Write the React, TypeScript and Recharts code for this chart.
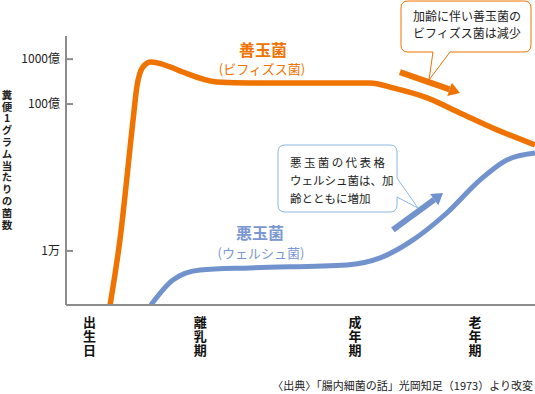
import React from 'react';
import { LineChart, Line, XAxis, YAxis, ReferenceLine } from 'recharts';

// stages along the life span (x ticks)
const stageNames = ['出生日', '離乳期', '成年期', '老年期'];
const stageAt = [5.0, 28.6, 61.6, 87.2];

// y ticks (schematic scale, 0-100)
const levelTicks = [20.1, 74.7, 91.4];
const levelNames = ['1万', '100億', '1000億'];

// 善玉菌 (ビフィズス菌)
const bifidoAge = [9.4, 11.5, 14.3, 15.1, 16.4, 18.1, 22.2, 24.9, 32.2, 39.2, 49.9, 64.8, 69.7, 77.0, 84.0, 91.0, 100];
const bifidoLevel = [0, 24.2, 68.8, 81.0, 88.5, 90.3, 88.5, 86.6, 82.9, 82.5, 82.5, 82.5, 80.7, 77.0, 71.4, 65.8, 59.5];

// 悪玉菌 (ウェルシュ菌)
const welchiiAge = [18.1, 22.8, 28.6, 39.2, 59.9, 67.0, 74.0, 81.2, 88.3, 94.0, 100];
const welchiiLevel = [0, 9.3, 13.0, 13.8, 14.9, 17.5, 24.2, 34.2, 46.5, 53.9, 56.5];

const bifidoData = bifidoAge.map((x, i) => ({ x, v: bifidoLevel[i] }));
const welchiiData = welchiiAge.map((x, i) => ({ x, v: welchiiLevel[i] }));

const ORANGE = '#ef7300';
const BLUE = '#7292cd';
const BLUE_TEXT = '#7b97d0';
const AXIS = '#8c8c8c';
const FONT = '"Noto Sans CJK JP", "Noto Sans", sans-serif';

const vertical: React.CSSProperties = { writingMode: 'vertical-rl', textOrientation: 'upright' } as any;

const StageTick = (props: any) => {
  const { x, y, payload } = props;
  const idx = stageAt.indexOf(payload.value);
  const name = idx >= 0 ? stageNames[idx] : '';
  return (
    <text x={x} y={y + 11} style={vertical} letterSpacing={1} fontSize={13} fontWeight="bold" fill="#111" fontFamily={FONT}>
      {name}
    </text>
  );
};

const LevelTick = (props: any) => {
  const { x, y, payload } = props;
  const idx = levelTicks.indexOf(payload.value);
  return (
    <g>
      <line x1={x} y1={y} x2={x + 7} y2={y} stroke={AXIS} strokeWidth={2} />
      <text x={x - 6} y={y + 4} textAnchor="end" fontSize={12} fill="#222" fontFamily={FONT}>
        {idx >= 0 ? levelNames[idx] : ''}
      </text>
    </g>
  );
};

const arrowShape = (color: string) => (props: any) => {
  const { x1, y1, x2, y2 } = props;
  const ang = Math.atan2(y2 - y1, x2 - x1);
  const head = 11;
  const bx = x2 - Math.cos(ang) * head;
  const by = y2 - Math.sin(ang) * head;
  const nx = -Math.sin(ang) * 7;
  const ny = Math.cos(ang) * 7;
  return (
    <g>
      <line x1={x1} y1={y1} x2={bx} y2={by} stroke={color} strokeWidth={6} />
      <polygon points={`${x2},${y2} ${bx + nx},${by + ny} ${bx - nx},${by - ny}`} fill={color} />
    </g>
  );
};

const yTitle = '糞便1グラム当たりの菌数';

export default function App() {
  return (
    <div style={{ position: 'absolute', left: 0, top: 0, width: 535, height: 394, background: '#fff', fontFamily: FONT }}>
      <LineChart width={535} height={394} margin={{ top: 36, right: 0, bottom: 0, left: 0 }}>
        <XAxis
          type="number"
          dataKey="x"
          domain={[0, 100]}
          ticks={stageAt}
          tick={<StageTick />}
          tickLine={false}
          tickSize={0}
          tickMargin={0}
          height={89}
          axisLine={{ stroke: AXIS, strokeWidth: 2 }}
          allowDataOverflow
        />
        <YAxis
          type="number"
          domain={[0, 100]}
          ticks={levelTicks}
          tick={<LevelTick />}
          tickLine={false}
          tickSize={0}
          tickMargin={0}
          width={66}
          axisLine={{ stroke: AXIS, strokeWidth: 2 }}
          allowDataOverflow
        />
        <Line data={bifidoData} dataKey="v" type="monotone" stroke={ORANGE} strokeWidth={5.5} dot={false} isAnimationActive={false} />
        <Line data={welchiiData} dataKey="v" type="monotone" stroke={BLUE} strokeWidth={5} dot={false} isAnimationActive={false} />
        <ReferenceLine segment={[{ x: 71.2, y: 86.6 }, { x: 84.0, y: 78.8 }]} ifOverflow="visible" shape={arrowShape(ORANGE)} />
        <ReferenceLine segment={[{ x: 69.7, y: 27.9 }, { x: 80.4, y: 41.6 }]} ifOverflow="visible" shape={arrowShape(BLUE)} />
      </LineChart>

      <svg width={535} height={394} style={{ position: 'absolute', left: 0, top: 0, pointerEvents: 'none' }}>
        {/* y axis title */}
        <text x={7} y={89.5} style={vertical} letterSpacing={1.3} fontSize={10.5} fontWeight="bold" fill="#222" fontFamily={FONT}>
          {yTitle}
        </text>

        {/* series names */}
        <text x={263} y={56} textAnchor="middle" fontSize={16} fontWeight="bold" fill={ORANGE} fontFamily={FONT}>善玉菌</text>
        <text x={262} y={74} textAnchor="middle" fontSize={13} fill={ORANGE} fontFamily={FONT}>(ビフィズス菌)</text>
        <text x={260} y={239} textAnchor="middle" fontSize={16} fontWeight="bold" fill={BLUE_TEXT} fontFamily={FONT}>悪玉菌</text>
        <text x={261} y={258} textAnchor="middle" fontSize={13} fill={BLUE_TEXT} fontFamily={FONT}>(ウェルシュ菌)</text>

        {/* orange callout */}
        <path d="M408,1 H524 Q531,1 531,8 V45 Q531,52 524,52 H450 L429,80 L433,52 H408 Q401,52 401,45 V8 Q401,1 408,1 Z" fill="#fff" stroke={ORANGE} strokeWidth={1} />
        <text x={413} y={21} fontSize={12} fill="#222" fontFamily={FONT}>加齢に伴い善玉菌の</text>
        <text x={413} y={38} fontSize={12} fill="#222" fontFamily={FONT}>ビフィズス菌は減少</text>

        {/* blue callout */}
        <path d="M285,145 H390 Q397,145 397,152 V178 L418,208 L397,197 V205 Q397,212 390,212 H285 Q278,212 278,205 V152 Q278,145 285,145 Z" fill="#fff" stroke="#8db7e4" strokeWidth={1} />
        <text x={290} y={167} fontSize={11.5} letterSpacing={2.4} fill="#222" fontFamily={FONT}>悪玉菌の代表格</text>
        <text x={290} y={185} fontSize={11.5} fill="#222" fontFamily={FONT}>ウェルシュ菌は、加</text>
        <text x={290} y={203} fontSize={11.5} fill="#222" fontFamily={FONT}>齢とともに増加</text>

        {/* source */}
        <text x={533} y={390} textAnchor="end" fontSize={11} fill="#222" fontFamily={FONT}>〈出典〉「腸内細菌の話」光岡知足（1973）より改変</text>
      </svg>
    </div>
  );
}
